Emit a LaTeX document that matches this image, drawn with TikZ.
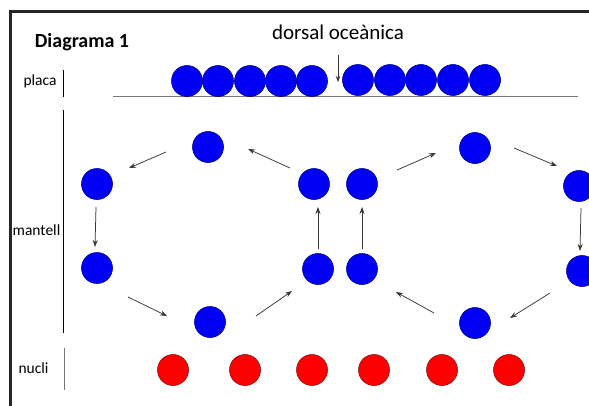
\documentclass[tikz,border=0pt]{standalone}
\usepackage{fontspec}
\setmainfont{Carlito}
\usetikzlibrary{arrows.meta}
\definecolor{ballblue}{RGB}{0,0,245}
\definecolor{ballblueedge}{RGB}{0,0,150}
\definecolor{ballred}{RGB}{255,0,0}
\definecolor{ballrededge}{RGB}{140,20,20}
\definecolor{arrowgray}{RGB}{55,55,55}
\definecolor{linegray}{RGB}{120,120,120}
\begin{document}
\begin{tikzpicture}[x=1pt,y=-1pt,
  blueball/.style={circle,fill=ballblue,draw=ballblueedge,line width=0.6pt,minimum size=31pt,inner sep=0pt},
  redball/.style={circle,fill=ballred,draw=ballrededge,line width=0.6pt,minimum size=31pt,inner sep=0pt},
  flow/.style={draw=arrowgray,line width=0.75pt,-{Stealth[length=7pt,width=5pt]}},
  lbl/.style={font=\fontsize{15.5}{18}\selectfont,anchor=base,inner sep=0pt},
  sepline/.style={draw=black,line width=0.8pt},
  frame/.style={draw=black!85,line width=2.5pt}
]
\useasboundingbox (0,0) rectangle (589,405);
\fill[white] (0,0) rectangle (589,405);
\clip (0,0) rectangle (589,405);

% frame
\draw[frame] (10.5,410) -- (10.5,11.5) -- (600,11.5);

% titles
\node[anchor=base,inner sep=0pt,font=\fontsize{20}{24}\selectfont\bfseries] (title) at (82,47) {Diagrama 1};
\node[anchor=base,inner sep=0pt,font=\fontsize{21}{25}\selectfont] (dorsal) at (338,39.5) {dorsal oceànica};

% layer labels
\node[lbl] (placa) at (40,85) {placa};
\node[lbl] (mantell) at (36.5,235) {mantell};
\node[lbl] (nucli) at (33.5,373) {nucli};
\draw[sepline] (63,70) -- (63,97);
\draw[sepline] (63.5,110) -- (63.5,333);
\draw[sepline,draw=linegray] (64,348) -- (64,390);

% plate line
\draw[draw=linegray,line width=1pt] (113,96) -- (578,96);

% plate balls
\foreach \i/\x in {1/187,2/218,3/250,4/281,5/312}{
  \node[blueball] (p\i) at (\x,81) {};
}
\foreach \i/\x in {6/358,7/390,8/421,9/453,10/485}{
  \node[blueball] (p\i) at (\x,80) {};
}

% dorsal arrow
\coordinate (d0) at (338,55);
\coordinate (d1) at (338,82);
\draw[flow,-{Stealth[length=6pt,width=4.5pt]}] (d0) -- (d1);

% mantle balls
\node[blueball] (m1) at (208,147) {};
\node[blueball] (m2) at (97,184) {};
\node[blueball] (m3) at (97,268) {};
\node[blueball] (m4) at (210,322) {};
\node[blueball] (m5) at (314,184) {};
\node[blueball] (m6) at (318,269) {};
\node[blueball] (m7) at (362,184) {};
\node[blueball] (m8) at (362,269) {};
\node[blueball] (m9) at (475,148) {};
\node[blueball] (m10) at (579,186) {};
\node[blueball] (m11) at (582,271) {};
\node[blueball] (m12) at (475,323) {};

% core balls
\foreach \i/\x in {1/173,2/245,3/312,4/374,5/442,6/509}{
  \node[redball] (n\i) at (\x,370) {};
}

% convection arrows
\foreach \n/\xa/\ya/\xb/\yb in {
  1/166/152/129/168,
  2/96/207/95/247,
  3/128/297/167/316,
  4/256/316/292/291,
  5/290/168/248/149,
  6/318/249/318/207,
  7/362/249/362/207,
  8/397/170/436/153,
  9/514/148/557/166,
  10/581/208/580/251,
  11/550/293/510/318,
  12/434/313/396/292}{
  \coordinate (s\n) at (\xa,\ya);
  \coordinate (e\n) at (\xb,\yb);
  \draw[flow] (s\n) -- (e\n);
}
\end{tikzpicture}
\end{document}
